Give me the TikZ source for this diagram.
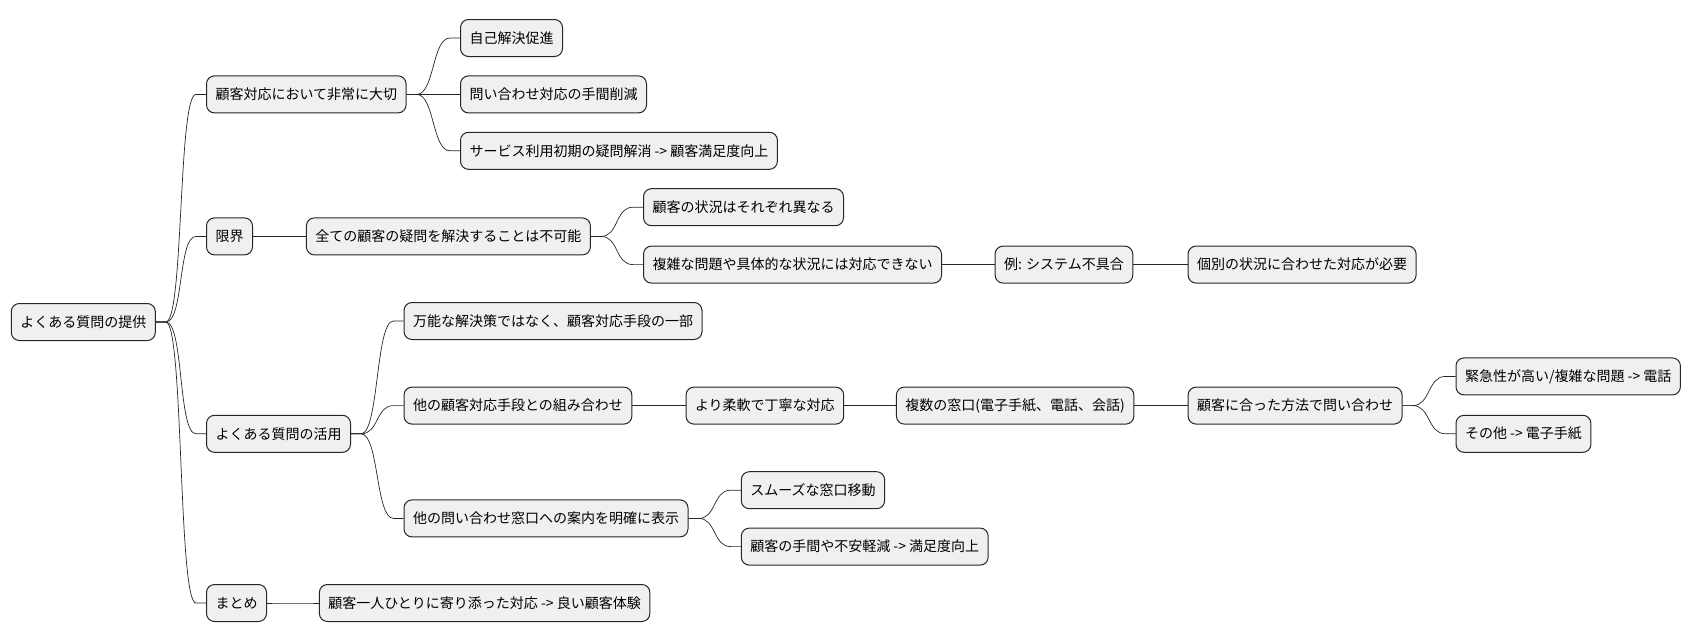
\documentclass[tikz,border=0pt]{standalone}
\usepackage{fontspec}
\setmainfont{Noto Sans CJK JP}
\begin{document}
\begin{tikzpicture}[x=1pt,y=-1pt,
    topic/.style={draw=black!85, line width=1pt, fill=black!6, rounded corners=8pt,
      anchor=west, minimum height=37pt, inner xsep=9pt, font=\fontsize{14}{16}\selectfont},
    link/.style={draw=black!85, line width=0.7pt}]
  \useasboundingbox (0,0) rectangle (1692,640);

  % Wurzel
  \node[topic] (root) at (10.8,322) {よくある質問の提供};

  % Erste Ebene
  \node[topic] (care)  at (206,94.4)  {顧客対応において非常に大切};
  \node[topic] (limit) at (206,236.4) {限界};
  \node[topic] (use)   at (206,433.8) {よくある質問の活用};
  \node[topic] (sum)   at (206,603)   {まとめ};

  % Zweig: care
  \node[topic] (self)  at (460,38)    {自己解決促進};
  \node[topic] (cost)  at (460,94.4)  {問い合わせ対応の手間削減};
  \node[topic] (init)  at (460,150.8) {サービス利用初期の疑問解消 -> 顧客満足度向上};

  % Zweig: limit
  \node[topic] (all)   at (305.9,236.4) {全ての顧客の疑問を解決することは不可能};
  \node[topic] (diff)  at (643,207.2)   {顧客の状況はそれぞれ異なる};
  \node[topic] (cplx)  at (643,264.6)   {複雑な問題や具体的な状況には対応できない};
  \node[topic] (ex)    at (994.6,264.6) {例: システム不具合};
  \node[topic] (indiv) at (1187.6,264.6) {個別の状況に合わせた対応が必要};

  % Zweig: use
  \node[topic] (part)  at (403.5,321)   {万能な解決策ではなく、顧客対応手段の一部};
  \node[topic] (comb)  at (403.5,405.6) {他の顧客対応手段との組み合わせ};
  \node[topic] (guide) at (403.5,518.4) {他の問い合わせ窓口への案内を明確に表示};
  \node[topic] (flex)  at (685.5,405.6) {より柔軟で丁寧な対応};
  \node[topic] (multi) at (895.9,405.6) {複数の窓口(電子手紙、電話、会話)};
  \node[topic] (fit)   at (1187.6,405.6) {顧客に合った方法で問い合わせ};
  \node[topic] (tel)   at (1455.5,376.4) {緊急性が高い/複雑な問題 -> 電話};
  \node[topic] (mail)  at (1455.5,433.8) {その他 -> 電子手紙};
  \node[topic] (move)  at (740.8,490.2) {スムーズな窓口移動};
  \node[topic] (ease)  at (740.8,546.6) {顧客の手間や不安軽減 -> 満足度向上};

  % Zweig: sum
  \node[topic] (exp)   at (318.9,603) {顧客一人ひとりに寄り添った対応 -> 良い顧客体験};

  % Verbindungen
  \foreach \a/\b in {root/care, root/limit, root/use, root/sum,
      care/self, care/cost, care/init, limit/all, all/diff, all/cplx,
      cplx/ex, ex/indiv, use/part, use/comb, use/guide, comb/flex,
      flex/multi, multi/fit, fit/tel, fit/mail, guide/move, guide/ease, sum/exp}
    \draw[link] (\a.east) -- ++(10,0) .. controls +(18,0) and +(-18,0) .. ([xshift=-10pt]\b.west) -- (\b.west);
\end{tikzpicture}
\end{document}
